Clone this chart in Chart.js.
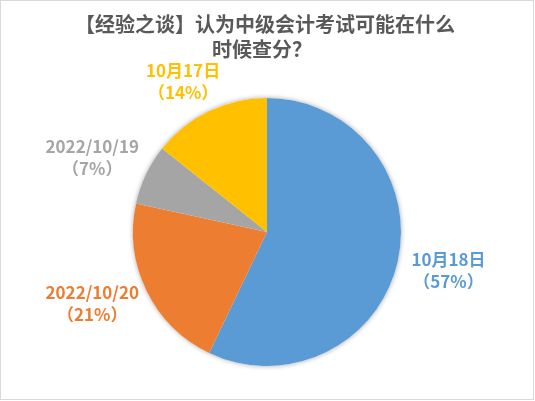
<!DOCTYPE html>
<html>
<head>
<meta charset="utf-8">
<script src="https://cdn.jsdelivr.net/npm/chart.js@4/dist/chart.umd.min.js"></script>
<style>
  html, body { margin: 0; padding: 0; background: #fff; }
  #wrap { position: absolute; left: 0; top: 0; width: 535px; height: 401px; }
  #frame { position: absolute; left: 0; top: 0; width: 534px; height: 400px; box-sizing: border-box; border: 1px solid #d9d9d9; pointer-events: none; }
</style>
</head>
<body>
<div id="wrap"><canvas id="c" width="535" height="401"></canvas><div id="frame"></div></div>
<script>
const titleLines = ['【经验之谈】认为中级会计考试可能在什么', '时候查分？'];
const categories = ['10月18日', '2022/10/20', '2022/10/19', '10月17日'];
const values = [57.1, 21.3, 7.3, 14.3];
const percentLabels = ['（57%）', '（21%）', '（7%）', '（14%）'];
const colors = ['#5B9BD5', '#ED7D31', '#A5A5A5', '#FFC000'];

const labelNudge = [[2, -2], [-9.5, -9], [-8.5, 4.5], [-4, 15]];

const titlePlugin = {
  id: 'titleDraw',
  afterDraw(chart) {
    const ctx = chart.ctx;
    ctx.save();
    ctx.fillStyle = '#595959';
    ctx.font = 'bold 20px "Noto Sans CJK SC"';
    ctx.textAlign = 'center';
    ctx.textBaseline = 'middle';
    ctx.fillText(titleLines[0], 265, 24);
    ctx.fillText(titleLines[1], 262, 49);
    ctx.restore();
  }
};

const shadowPlugin = {
  id: 'pieShadow',
  beforeDatasetsDraw(chart) {
    const arc = chart.getDatasetMeta(0).data[0];
    if (!arc) return;
    const ctx = chart.ctx;
    ctx.save();
    ctx.shadowColor = 'rgba(0,0,0,0.35)';
    ctx.shadowBlur = 5;
    ctx.fillStyle = '#ffffff';
    ctx.beginPath();
    ctx.arc(arc.x, arc.y, arc.outerRadius, 0, Math.PI * 2);
    ctx.fill();
    ctx.restore();
  }
};

const labelPlugin = {
  id: 'outLabels',
  afterDatasetsDraw(chart) {
    const ctx = chart.ctx;
    const meta = chart.getDatasetMeta(0);
    ctx.save();
    ctx.font = 'bold 17px "Noto Sans CJK SC"';
    ctx.textAlign = 'center';
    ctx.textBaseline = 'middle';
    meta.data.forEach((arc, i) => {
      const mid = (arc.startAngle + arc.endAngle) / 2;
      const r = arc.outerRadius + 50;
      const x = arc.x + Math.cos(mid) * r + labelNudge[i][0];
      const y = arc.y + Math.sin(mid) * r + labelNudge[i][1];
      ctx.fillStyle = colors[i];
      ctx.fillText(categories[i], x, y - 11);
      ctx.fillText(percentLabels[i], x, y + 11);
    });
    ctx.restore();
  }
};

new Chart(document.getElementById('c'), {
  type: 'pie',
  data: {
    labels: categories,
    datasets: [{
      data: values,
      backgroundColor: colors,
      borderWidth: 0,
      hoverOffset: 0
    }]
  },
  options: {
    responsive: false,
    animation: false,
    rotation: 0,
    layout: { padding: { top: 98, bottom: 35, left: 133, right: 134 } },
    plugins: {
      legend: { display: false },
      title: { display: false },
      tooltip: { enabled: false }
    }
  },
  plugins: [shadowPlugin, labelPlugin, titlePlugin]
});
</script>
</body>
</html>
